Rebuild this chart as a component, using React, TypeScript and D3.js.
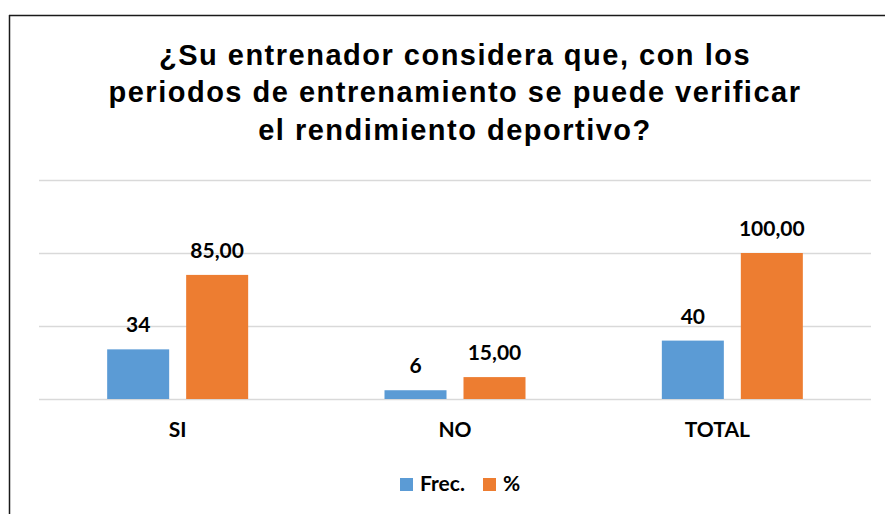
import React from "react";
import * as d3 from "d3";

const titleLines = [
  "¿Su entrenador considera que, con los",
  "periodos de entrenamiento se puede verificar",
  "el rendimiento deportivo?",
];
const categories = ["SI", "NO", "TOTAL"];
const categoryLabels = ["SI", "NO", "TOTAL\u00a0\u00a0\u00a0\u00a0\u00a0\u00a0"];
const seriesNames = ["Frec.", "%"];
const frecValues = [34, 6, 40];
const pctValues = [85, 15, 100];
const pctLabels = ["85,00", "15,00", "100,00"];
const frecLabels = ["34", "6", "40"];
const gridTicks = [0, 50, 100, 150];
const colors = ["#5B9BD5", "#ED7D31"];

export default function App() {
  const W = 886;
  const H = 515;
  const left = 39;
  const right = 871;
  const top = 180;
  const bottom = 399;

  const x0 = d3.scaleBand<string>().domain(categories).range([left, right]).padding(0);
  const x1 = d3
    .scaleBand<string>()
    .domain(seriesNames)
    .range([0, x0.bandwidth()])
    .paddingInner(0.215)
    .paddingOuter(0.863);
  const y = d3.scaleLinear().domain([0, 150]).range([bottom, top]);

  const series = [
    { name: seriesNames[0], values: frecValues, labels: frecLabels, color: colors[0] },
    { name: seriesNames[1], values: pctValues, labels: pctLabels, color: colors[1] },
  ];

  const labelFont = "Lato, Carlito, Calibri, sans-serif";

  return (
    <svg
      width={W}
      height={H}
      style={{ position: "absolute", left: 0, top: 0, background: "#fff" }}
    >
      <rect x={0} y={0} width={W} height={H} fill="#fff" />
      <line x1={9} y1={15.5} x2={885} y2={15.5} stroke="#1a1a1a" strokeWidth={1.5} />
      <line x1={9.5} y1={15} x2={9.5} y2={514} stroke="#1a1a1a" strokeWidth={1.5} />

      {titleLines.map((t, i) => (
        <text
          key={i}
          x={455}
          y={64.5 + i * 37.5}
          textAnchor="middle"
          fontFamily="'Liberation Sans', Arial, sans-serif"
          fontWeight="bold"
          fontSize={29}
          letterSpacing={1.5}
          fill="#000"
        >
          {t}
        </text>
      ))}

      {gridTicks.map((t) => (
        <line
          key={t}
          x1={left}
          x2={right}
          y1={Math.round(y(t)) + 0.5}
          y2={Math.round(y(t)) + 0.5}
          stroke="#d9d9d9"
          strokeWidth={1.5}
        />
      ))}

      {categories.map((c, ci) => (
        <g key={c} transform={`translate(${x0(c)},0)`}>
          {series.map((s) => (
            <g key={s.name}>
              <rect
                x={x1(s.name)}
                y={y(s.values[ci])}
                width={x1.bandwidth()}
                height={bottom - y(s.values[ci])}
                fill={s.color}
              />
              <text
                x={(x1(s.name) as number) + x1.bandwidth() / 2}
                y={y(s.values[ci]) - 17}
                textAnchor="middle"
                fontFamily={labelFont}
                fontWeight="bold"
                fontSize={21}
                fill="#000"
              >
                {s.labels[ci]}
              </text>
            </g>
          ))}
          <text
            x={x0.bandwidth() / 2}
            y={437}
            textAnchor="middle"
            fontFamily={labelFont}
            fontWeight="bold"
            fontSize={21}
            fill="#000"
          >
            {categoryLabels[ci]}
          </text>
        </g>
      ))}

      {series.map((s, i) => {
        const lx = i === 0 ? 400 : 483;
        return (
          <g key={s.name}>
            <rect x={lx} y={478} width={13} height={13} fill={s.color} />
            <text
              x={lx + 20}
              y={491}
              fontFamily={labelFont}
              fontWeight="bold"
              fontSize={21}
              fill="#000"
            >
              {s.name}
            </text>
          </g>
        );
      })}
    </svg>
  );
}
